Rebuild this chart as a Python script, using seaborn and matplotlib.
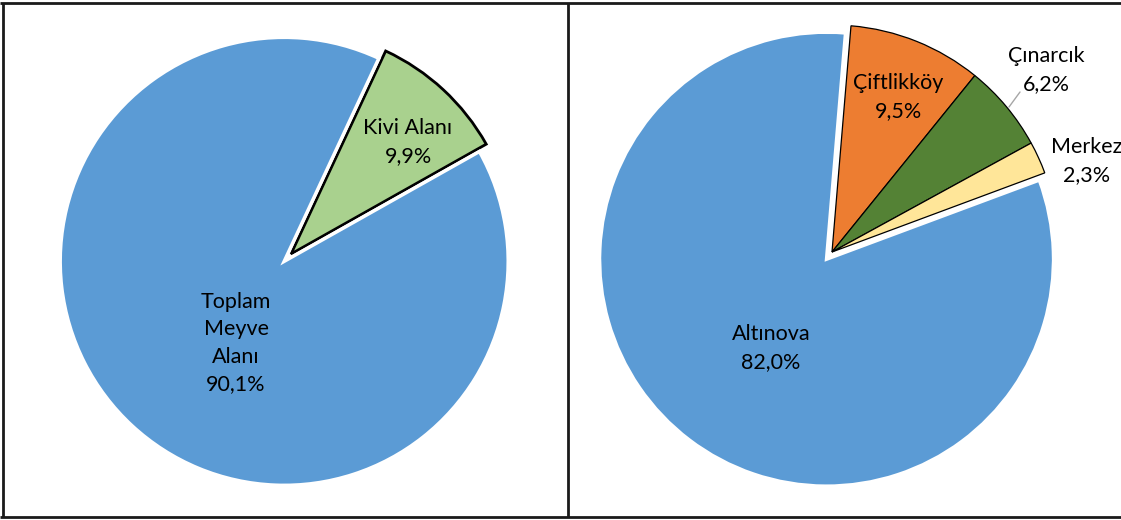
import matplotlib
matplotlib.use("Agg")
import matplotlib.pyplot as plt
import seaborn as sns

sns.set_theme(style="white")
plt.rcParams["font.family"] = ["Lato", "DejaVu Sans"]

# Left chart: share of kiwi area in total fruit area
left_labels = ["Kivi Alanı", "Toplam\nMeyve\nAlanı"]
left_values = [9.9, 90.1]
left_colors = ["#A9D18E", "#5B9BD5"]

# Right chart: kiwi area by district
right_labels = ["Çiftlikköy", "Çınarcık", "Merkez", "Altınova"]
right_values = [9.5, 6.2, 2.3, 82.0]
right_colors = ["#ED7D31", "#548235", "#FFE699", "#5B9BD5"]

W, H = 1121, 520
fig = plt.figure(figsize=(W / 100, H / 100), dpi=100)
ax = fig.add_axes([0, 0, 1, 1])


def pct(v):
    return f"{v:.1f}%".replace(".", ",")


# ---- left pie ----
lw, _ = ax.pie(
    left_values, center=(291, H - 254), radius=224,
    startangle=65, counterclock=False,
    colors=left_colors, explode=[0, 10],
)
lw[0].set_edgecolor("black"); lw[0].set_linewidth(2.0)
lw[1].set_edgecolor("white"); lw[1].set_linewidth(2.5)

# ---- right pie ----
rw, _ = ax.pie(
    right_values, center=(832, H - 252), radius=227,
    startangle=85.2, counterclock=False,
    colors=right_colors, explode=[0, 0, 0, 9],
)
for w in rw[:3]:
    w.set_edgecolor("black"); w.set_linewidth(0.9)
rw[3].set_edgecolor("white"); rw[3].set_linewidth(2.5)

fs = 15.5
txt = dict(ha="center", va="center", fontsize=fs, color="black", linespacing=1.45)
ax.text(408, H - 142, f"{left_labels[0]}\n{pct(left_values[0])}", **txt)
ax.text(236, H - 343, f"{left_labels[1]}\n{pct(left_values[1])}", **txt)
ax.text(898, H - 97, f"{right_labels[0]}\n{pct(right_values[0])}", **txt)
ax.text(1046, H - 70, f"{right_labels[1]}\n{pct(right_values[1])}", **txt)
ax.text(1087, H - 161, f"{right_labels[2]}\n{pct(right_values[2])}", **txt)
ax.text(771, H - 348, f"{right_labels[3]}\n{pct(right_values[3])}", **txt)

# leader line for the small district label
ax.plot([1020, 1009], [H - 92, H - 107], color="#A6A6A6", lw=1)

# chart frames
frame = dict(color="#1a1a1a", lw=2, solid_capstyle="butt")
ax.plot([0, W], [H - 3, H - 3], **frame)
ax.plot([0, W], [H - 517, H - 517], **frame)
ax.plot([3, 3], [H - 3, H - 517], **frame)
ax.plot([568, 568], [H - 3, H - 517], **frame)

ax.set_xlim(0, W)
ax.set_ylim(0, H)
ax.set_aspect("equal")
ax.axis("off")
fig.savefig("out.png", dpi=100, facecolor="white")
